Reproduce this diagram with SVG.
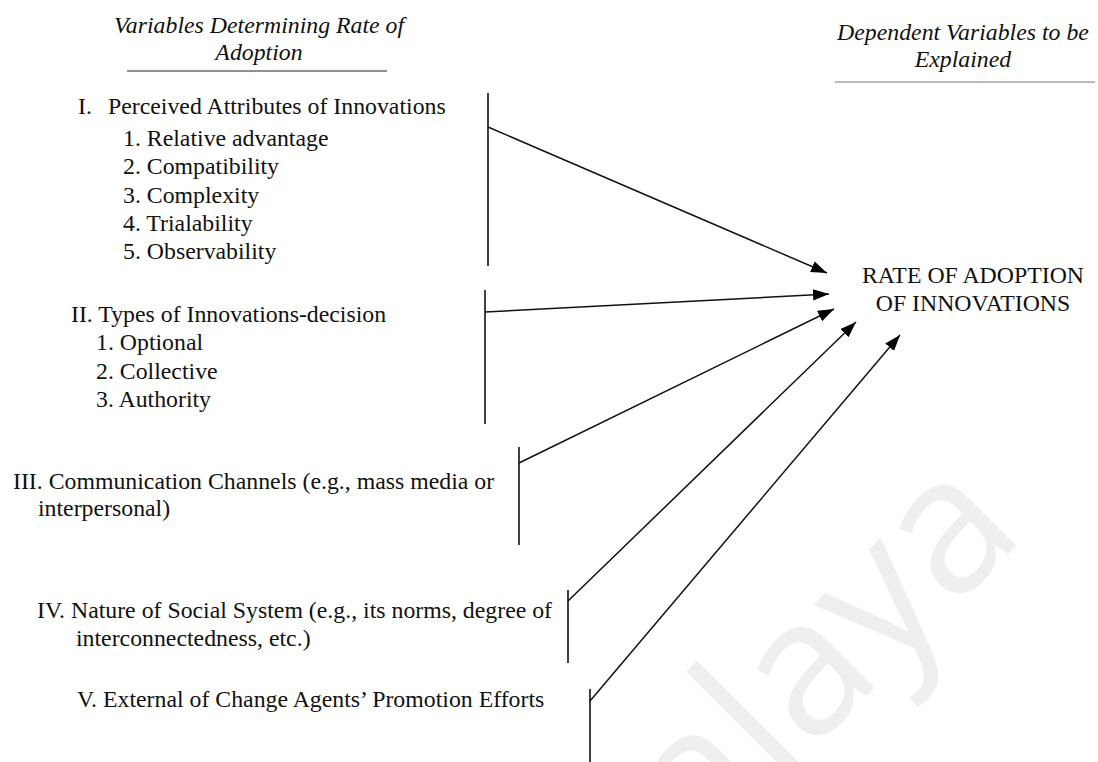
<svg xmlns="http://www.w3.org/2000/svg" width="1098" height="762" viewBox="0 0 1098 762">
  <defs>
    <marker id="arrow" markerUnits="userSpaceOnUse" markerWidth="17" markerHeight="12" refX="16" refY="5.75" orient="auto">
      <path d="M0,0 L16,5.75 L0,11.5 z" fill="#000"/>
    </marker>
    <style>
      text { font-family: "Liberation Serif", "Times New Roman", serif; font-size: 23.8px; fill: #111; }
      .head { font-style: italic; text-anchor: middle; }
      .mid { text-anchor: middle; }
      .bar { stroke: #111; stroke-width: 1.6; fill: none; }
      .rule { stroke-width: 1.2; fill: none; }
      .link { stroke: #111; stroke-width: 1.5; fill: none; marker-end: url(#arrow); }
      .mark { font-family: "Open Sans", "Noto Sans", sans-serif; font-size: 190px; fill: #efefef; }
    </style>
  </defs>

  <rect width="1098" height="762" fill="#fff"/>

  <!-- faint background mark -->
  <text class="mark" transform="translate(702,860) rotate(-45)">alaya</text>

  <!-- column headings -->
  <g id="heading-causes">
    <text class="head" x="259" y="33">Variables Determining Rate of</text>
    <text class="head" x="259" y="60">Adoption</text>
    <line class="rule" x1="127" y1="71" x2="387" y2="71" stroke="#222"/>
  </g>
  <g id="heading-effects">
    <text class="head" x="963" y="40">Dependent Variables to be</text>
    <text class="head" x="963" y="67">Explained</text>
    <line class="rule" x1="835" y1="82" x2="1095" y2="82" stroke="#777"/>
  </g>

  <!-- I. perceived attributes -->
  <g id="factor-attributes">
    <text x="78" y="114">I.</text>
    <text x="108" y="114">Perceived Attributes of Innovations</text>
    <text x="123" y="146">1. Relative advantage</text>
    <text x="123" y="174">2. Compatibility</text>
    <text x="123" y="203">3. Complexity</text>
    <text x="123" y="231">4. Trialability</text>
    <text x="123" y="259">5. Observability</text>
    <line class="bar" x1="488" y1="93" x2="488" y2="266"/>
  </g>

  <!-- II. decision types -->
  <g id="factor-decision">
    <text x="71" y="322">II. Types of Innovations-decision</text>
    <text x="96" y="350">1. Optional</text>
    <text x="96" y="379">2. Collective</text>
    <text x="96" y="407">3. Authority</text>
    <line class="bar" x1="485" y1="290" x2="485" y2="424"/>
  </g>

  <!-- III. channels -->
  <g id="factor-channels">
    <text x="13" y="489">III. Communication Channels (e.g., mass media or</text>
    <text x="38" y="516">interpersonal)</text>
    <line class="bar" x1="519" y1="447" x2="519" y2="545"/>
  </g>

  <!-- IV. social system -->
  <g id="factor-social">
    <text x="37" y="618">IV. Nature of Social System (e.g., its norms, degree of</text>
    <text x="76" y="646">interconnectedness, etc.)</text>
    <line class="bar" x1="568" y1="590" x2="568" y2="663"/>
  </g>

  <!-- V. change agents -->
  <g id="factor-agents">
    <text x="77" y="707">V. External of Change Agents’ Promotion Efforts</text>
    <line class="bar" x1="590" y1="689" x2="590" y2="762"/>
  </g>

  <!-- outcome -->
  <g id="outcome">
    <text class="mid" x="973" y="283">RATE OF ADOPTION</text>
    <text class="mid" x="973" y="311">OF INNOVATIONS</text>
  </g>

  <!-- arrows into the outcome -->
  <g id="connectors">
    <line class="link" x1="488" y1="127" x2="827" y2="273"/>
    <line class="link" x1="485" y1="312" x2="829" y2="294"/>
    <line class="link" x1="519" y1="463" x2="834" y2="309"/>
    <line class="link" x1="568" y1="601" x2="856" y2="322"/>
    <line class="link" x1="590" y1="701" x2="900" y2="335"/>
  </g>
</svg>
